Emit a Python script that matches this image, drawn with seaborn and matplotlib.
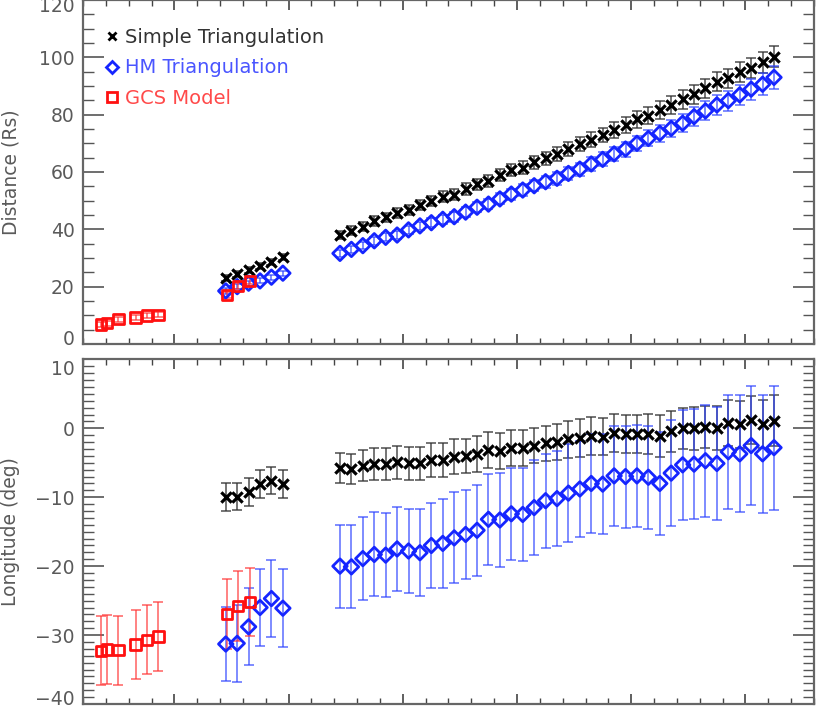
import numpy as np
import pandas as pd
import matplotlib
matplotlib.use("Agg")
import matplotlib.pyplot as plt
import matplotlib.transforms as mtransforms
from matplotlib.ticker import MultipleLocator, FixedLocator
from matplotlib.lines import Line2D
import seaborn as sns

# observation times (hours) - no labels on the x axis in the original
t_gcs = [0.8, 1.05, 1.55, 2.3, 2.8, 3.3, 6.3, 6.8, 7.3]
t_tri = [6.25, 6.75, 7.25, 7.75, 8.25, 8.75,
         11.25, 11.75, 12.25, 12.75, 13.25, 13.75, 14.25, 14.75, 15.25, 15.75,
         16.25, 16.75, 17.25, 17.75, 18.25, 18.75, 19.25, 19.75, 20.25, 20.75,
         21.25, 21.75, 22.25, 22.75, 23.25, 23.75, 24.25, 24.75, 25.25, 25.75,
         26.25, 26.75, 27.25, 27.75, 28.25, 28.75, 29.25, 29.75, 30.25]

# distance (Rs)
simple_dist = [22.9, 24.3, 25.7, 27.3, 28.7, 30.3,
               38.0, 39.5, 40.9, 42.9, 44.2, 45.6, 46.7, 48.6, 49.9, 51.4,
               52.0, 54.1, 55.7, 56.9, 58.9, 60.7, 61.5, 63.4, 64.8, 66.2,
               68.1, 69.7, 71.2, 72.9, 74.6, 76.4, 78.4, 79.6, 81.6, 83.4,
               85.3, 87.1, 89.2, 91.5, 92.7, 94.8, 96.4, 98.2, 100.2]
simple_dist_err = [1.0, 1.0, 1.0, 1.0, 1.0, 1.0,
                   1.5, 1.5, 1.5, 1.6, 1.6, 1.7, 1.7, 1.8, 1.8, 1.9,
                   1.9, 2.0, 2.0, 2.1, 2.1, 2.2, 2.2, 2.3, 2.3, 2.4,
                   2.4, 2.5, 2.6, 2.6, 2.7, 2.8, 2.9, 3.0, 3.0, 3.1,
                   3.2, 3.3, 3.3, 3.4, 3.4, 3.5, 3.5, 3.6, 3.6]
hm_dist = [18.5, 20.0, 21.2, 22.0, 23.3, 24.7,
           31.6, 33.0, 34.3, 36.0, 37.2, 38.0, 39.8, 41.2, 42.3, 43.5,
           44.4, 46.0, 47.7, 48.8, 50.6, 52.3, 53.7, 55.2, 56.6, 57.8,
           59.5, 61.0, 62.8, 64.4, 66.3, 68.0, 70.0, 71.7, 73.5, 75.2,
           77.0, 79.3, 81.3, 83.4, 84.9, 86.9, 88.9, 90.6, 93.0]
hm_dist_err = [0.9, 0.9, 0.9, 0.9, 0.9, 0.9,
               1.2, 1.2, 1.3, 1.3, 1.4, 1.4, 1.5, 1.5, 1.6, 1.6,
               1.7, 1.7, 1.8, 1.8, 1.9, 1.9, 2.0, 2.0, 2.1, 2.2,
               2.2, 2.3, 2.4, 2.4, 2.5, 2.6, 2.7, 2.8, 2.9, 3.0,
               3.1, 3.2, 3.3, 3.4, 3.5, 3.6, 3.7, 3.8, 3.9]
gcs_dist = [6.8, 7.2, 8.6, 9.2, 9.9, 10.2, 17.2, 20.3, 22.0]
gcs_dist_err = [0.8, 0.8, 0.8, 0.9, 0.9, 0.9, 1.0, 1.0, 1.0]

# longitude (deg)
simple_lon = [-10.0, -9.9, -9.2, -8.1, -7.6, -8.1,
              -5.8, -5.9, -5.4, -5.2, -5.2, -4.9,
              -5.1, -5.1, -4.6, -4.6, -4.1, -4.0, -3.7, -3.2, -3.3, -2.9, -2.9, -2.5,
              -2.2, -2.0, -1.6, -1.4, -1.1, -1.2, -0.7, -0.8, -0.8, -0.8, -1.1, -0.45,
              0.0, 0.0, 0.2, 0.1, 0.8, 0.6, 1.2, 0.6, 1.1]
simple_lon_err = [2.0, 2.0, 2.0, 2.0, 2.0, 2.0,
                  2.2, 2.2, 2.3, 2.3, 2.3, 2.4, 2.4, 2.4, 2.5, 2.5,
                  2.5, 2.5, 2.6, 2.6, 2.6, 2.6, 2.6, 2.6, 2.6, 2.6,
                  2.7, 2.7, 2.7, 2.7, 2.8, 2.8, 2.8, 2.9, 3.0, 3.0,
                  3.0, 3.1, 3.1, 3.2, 3.3, 3.4, 3.5, 3.5, 3.7]
hm_lon = [-31.3, -31.2, -28.8, -26.0, -24.7, -26.1,
          -20.0, -20.1, -18.9, -18.3, -18.4, -17.5,
          -17.8, -18.05, -17.0, -16.7, -15.9, -15.4, -14.8, -13.2, -13.3, -12.4, -12.5, -11.5,
          -10.5, -10.2, -9.4, -8.8, -8.0, -8.1, -6.9, -7.0, -6.9, -7.1, -8.0, -6.5,
          -5.3, -5.2, -4.7, -5.1, -3.4, -3.7, -2.5, -3.7, -2.8]
hm_lon_err = [5.4, 5.6, 5.6, 5.6, 5.6, 5.7,
              6.0, 6.0, 6.0, 6.1, 6.1, 6.1, 6.1, 6.3, 6.1, 6.4,
              6.6, 6.4, 6.6, 6.6, 6.8, 6.7, 6.7, 6.9, 6.8, 6.9,
              7.1, 7.0, 7.2, 7.3, 7.3, 7.4, 7.4, 7.5, 7.5, 7.7,
              8.0, 8.0, 8.1, 8.2, 8.3, 8.5, 8.6, 8.6, 9.0]
gcs_lon = [-32.3, -32.1, -32.2, -31.35, -30.7, -30.2, -26.95, -25.75, -25.2]
gcs_lon_err = [5.0, 5.0, 5.0, 5.0, 5.0, 5.0, 5.1, 5.1, 5.0]

labels = ["Simple Triangulation", "HM Triangulation", "GCS Model"]

sns.set_style("ticks")
plt.rcParams["font.family"] = ["DejaVu Sans"]
plt.rcParams["xtick.direction"] = "in"
plt.rcParams["ytick.direction"] = "in"

black = "#000000"
blue = "#1525ff"
red = "#ff1010"
txt = "#5a5a5a"

fig = plt.figure(figsize=(8.3, 7.19), dpi=100)
ax1 = fig.add_axes([0.1, 0.5216, 0.8807, 0.4784])
ax2 = fig.add_axes([0.1, 0.0209, 0.8807, 0.4792])

panels = [
    (ax1, simple_dist, simple_dist_err, hm_dist, hm_dist_err, gcs_dist, gcs_dist_err),
    (ax2, simple_lon, simple_lon_err, hm_lon, hm_lon_err, gcs_lon, gcs_lon_err),
]

for ax, sy, se, hy, he, gy, ge in panels:
    # error bars first
    ax.errorbar(t_tri, sy, yerr=se, fmt="none", ecolor="#333333", alpha=0.8,
                elinewidth=1.2, capsize=3.5, capthick=1.2, zorder=2)
    ax.errorbar(t_tri, hy, yerr=he, fmt="none", ecolor="#2a40ff", alpha=0.7,
                elinewidth=1.2, capsize=3.5, capthick=1.2, zorder=2)
    ax.errorbar(t_gcs, gy, yerr=ge, fmt="none", ecolor="#ff3030", alpha=0.7,
                elinewidth=1.2, capsize=3.5, capthick=1.2, zorder=2)

    simple_df = pd.DataFrame({"t": t_tri, "v": sy})
    hm_df = pd.DataFrame({"t": t_tri, "v": hy})
    gcs_df = pd.DataFrame({"t": t_gcs, "v": gy})
    sns.scatterplot(data=simple_df, x="t", y="v", ax=ax, marker="x", s=55,
                    color=black, linewidth=2.3, zorder=3, legend=False)
    sns.scatterplot(data=hm_df, x="t", y="v", ax=ax, marker="D", s=55,
                    color=blue, facecolor="none", edgecolor=blue,
                    linewidth=2.0, zorder=4, legend=False)
    sns.scatterplot(data=gcs_df, x="t", y="v", ax=ax, marker="s", s=55,
                    color=red, facecolor="none", edgecolor=red,
                    linewidth=2.0, zorder=5, legend=False)

    ax.set_xlim(0, 32)
    ax.xaxis.set_major_locator(FixedLocator([4, 9, 14, 19, 24, 29]))
    ax.xaxis.set_minor_locator(MultipleLocator(1))
    ax.set_xticklabels([])
    ax.set_xlabel("")
    ax.tick_params(axis="x", which="major", length=7, width=1.2, color="#444444",
                   top=True, bottom=True)
    ax.tick_params(axis="x", which="minor", length=4, width=1.0, color="#444444",
                   top=True, bottom=True)
    ax.tick_params(axis="y", which="major", length=15, width=1.2, color="#555555",
                   left=True, right=True, labelsize=13.5, labelcolor=txt, pad=6)
    ax.tick_params(axis="y", which="minor", length=8, width=1.0, color="#555555",
                   left=True, right=True)
    for sp in ax.spines.values():
        sp.set_visible(True)
        sp.set_color("#666666")
        sp.set_linewidth(1.6)

ax1.set_ylim(0, 120)
ax1.yaxis.set_major_locator(MultipleLocator(20))
ax1.yaxis.set_minor_locator(MultipleLocator(5))
ax1.set_ylabel("Distance (Rs)", fontsize=13.5, color=txt)
ax1.yaxis.set_label_coords(-0.086, 0.5)

ax2.set_ylim(-40, 10)
ax2.yaxis.set_major_locator(MultipleLocator(10))
ax2.yaxis.set_minor_locator(MultipleLocator(1))
ax2.set_ylabel("Longitude (deg)", fontsize=13.5, color=txt)
ax2.yaxis.set_label_coords(-0.086, 0.5)

handles = [
    Line2D([], [], ls="none", marker="x", color=black, ms=6, mew=2),
    Line2D([], [], ls="none", marker="D", mfc="none", mec=blue, ms=6.5, mew=2),
    Line2D([], [], ls="none", marker="s", mfc="none", mec=red, ms=7, mew=2),
]
ax1.legend(handles, labels, loc="upper left", bbox_to_anchor=(0.03, 0.918),
           frameon=False, borderpad=0, borderaxespad=0, handlelength=0.7,
           handletextpad=0.35, labelspacing=0.58, fontsize=14,
           labelcolor=["#333333", "#4a55ff", "#ff4a4a"])

# nudge the end labels inward like the original plot does
fig.canvas.draw()
shifts = {ax1: {0: 6, 120: -5}, ax2: {10: -8, -40: 6}}
for ax, table in shifts.items():
    for tick, val in zip(ax.yaxis.get_major_ticks(), ax.get_yticks()):
        for key, dy in table.items():
            if abs(val - key) < 1e-6:
                off = mtransforms.ScaledTranslation(0, dy / 100, fig.dpi_scale_trans)
                tick.label1.set_transform(tick.label1.get_transform() + off)

fig.savefig("out.png", dpi=100)
